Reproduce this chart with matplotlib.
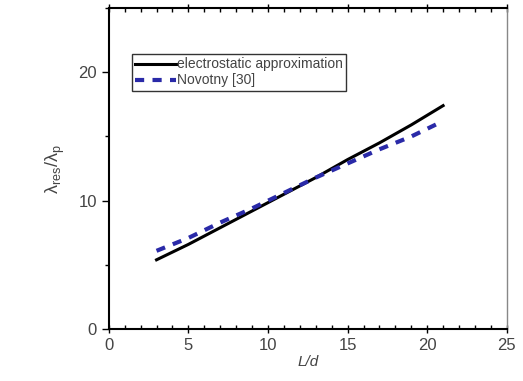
import matplotlib
matplotlib.use("Agg")
import matplotlib.pyplot as plt
from matplotlib.ticker import MultipleLocator

plt.rcParams['font.family'] = ['Liberation Sans', 'DejaVu Sans']

x_es = [3, 5, 7, 9, 11, 13, 15, 17, 19, 21]
y_es = [5.4, 6.6, 7.9, 9.2, 10.5, 11.8, 13.2, 14.5, 15.9, 17.4]
x_nov = [3, 5, 7, 9, 11, 13, 15, 17, 19, 21]
y_nov = [6.1, 7.1, 8.3, 9.4, 10.6, 11.8, 12.9, 14.0, 15.0, 16.2]

xticks = [0, 5, 10, 15, 20, 25]
yticks = [0, 10, 20]

fig = plt.figure(figsize=(5.23, 3.81), dpi=100)
ax = fig.add_axes([0.208, 0.136, 0.761, 0.843])

ax.plot(x_es, y_es, color='black', lw=2.2, label='electrostatic approximation')
ax.plot(x_nov, y_nov, color='#2a2aa8', lw=3.0, ls=(0, (2.2, 2.0)), label='Novotny [30]')

ax.set_xlim(0, 25)
ax.set_ylim(0, 25)
ax.set_xticks(xticks)
ax.set_yticks(yticks)
ax.xaxis.set_minor_locator(MultipleLocator(1))
ax.yaxis.set_minor_locator(MultipleLocator(5))

ax.tick_params(axis='x', which='major', direction='inout', length=6, width=1,
               labelsize=12, top=True)
ax.tick_params(axis='x', which='minor', direction='in', length=3, width=1, top=True)
ax.tick_params(axis='y', which='major', direction='out', length=5, width=1,
               labelsize=12)
ax.tick_params(axis='y', which='minor', direction='out', length=3, width=1)
ax.tick_params(axis='both', which='both', labelcolor='#444444')

for s in ['left', 'bottom', 'top']:
    ax.spines[s].set_linewidth(1.5)
ax.spines['right'].set_linewidth(1.0)
ax.spines['right'].set_color('#888888')

ax.set_xlabel('L/d', fontsize=11, style='italic', color='#444444', labelpad=1)
ax.set_ylabel(r'$\mathregular{\lambda_{res}/\lambda_p}$', fontsize=13, color='#444444', labelpad=8)

leg = ax.legend(loc='upper left', bbox_to_anchor=(0.058, 0.857), fontsize=10,
                frameon=True, fancybox=False, edgecolor='black', handlelength=2.9,
                handletextpad=0.1, borderpad=0.25, labelspacing=0.15, borderaxespad=0)
leg.get_frame().set_linewidth(1.0)
for t in leg.get_texts():
    t.set_color('#444444')

fig.savefig('out.png', dpi=100)
